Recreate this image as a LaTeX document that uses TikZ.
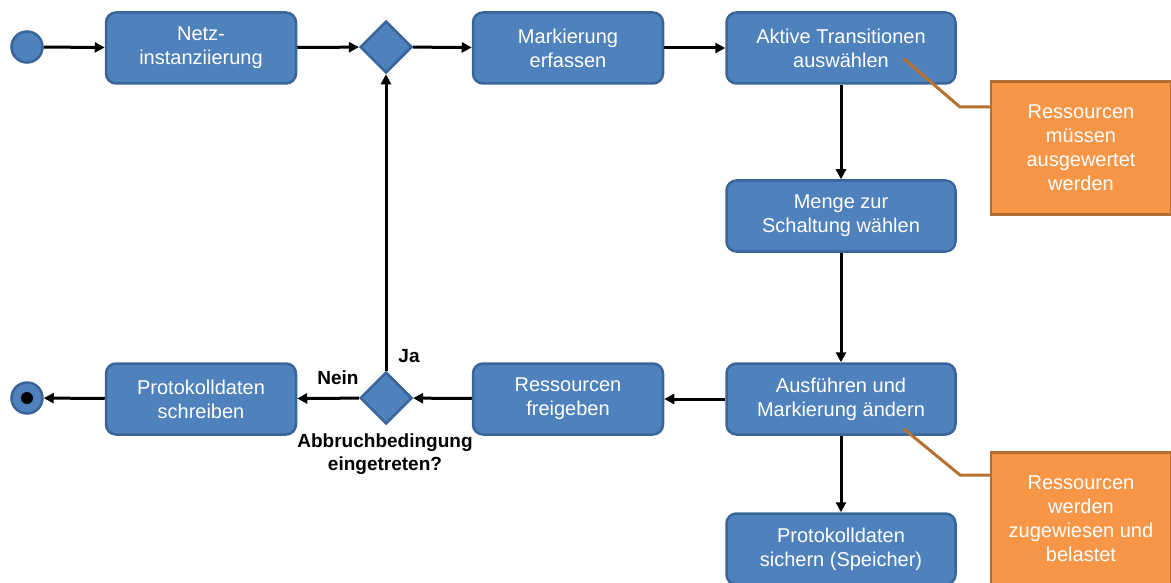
\documentclass[tikz,border=0pt]{standalone}
\usepackage{fontspec}
\setmainfont{Liberation Sans}
\usetikzlibrary{shapes.geometric,arrows.meta}
\definecolor{actfill}{HTML}{4F81BD}
\definecolor{actline}{HTML}{3A659A}
\definecolor{notefill}{HTML}{F79646}
\definecolor{noteline}{HTML}{B66D31}
\definecolor{calloutline}{HTML}{B5712F}
\begin{document}
\begin{tikzpicture}[x=1pt,y=-1pt,
  every node/.style={font=\fontsize{20}{24}\selectfont},
  action/.style={draw=actline, line width=2.5pt, fill=actfill, rounded corners=10pt,
    text=white, align=center, minimum width=#1, minimum height=71pt, inner sep=0pt},
  action/.default=190pt,
  decision/.style={diamond, draw=actline, line width=2.5pt, fill=actfill,
    minimum width=52pt, minimum height=52pt, inner sep=0pt},
  note/.style={draw=noteline, line width=2.5pt, fill=notefill, text=white,
    align=center, minimum width=180pt, minimum height=133pt, inner sep=0pt},
  flow/.style={draw=black, line width=3pt, -{Triangle[length=10pt,width=10pt]}},
  callout/.style={draw=calloutline, line width=3pt},
  lbl/.style={font=\bfseries\fontsize{19}{23}\selectfont, text=black, align=center}]
\useasboundingbox (0,0) rectangle (1171,583);

% start and end
\node[circle, draw=actline, line width=2.5pt, fill=actfill, minimum size=31pt, inner sep=0pt] (start) at (27,47) {};
\node[circle, draw=actline, line width=2.5pt, fill=actfill, minimum size=31pt, inner sep=0pt] (stop) at (27,398) {};
\fill[black] (stop.center) circle (6pt);

% upper row
\node[action] (netz) at (201,48) {Netz-\\instanziierung};
\node[decision] (merge) at (386,47) {};
\node[action] (mark) at (568,48) {Markierung\\erfassen};
\node[action=229pt] (aktiv) at (841,48) {Aktive Transitionen\\auswählen};

% right column
\node[action=229pt] (menge) at (841,216) {Menge zur\\Schaltung wählen};
\node[action=229pt] (ausf) at (841,399) {Ausführen und\\Markierung ändern};
\node[action=229pt] (sich) at (841,549) {Protokolldaten\\sichern (Speicher)};

% lower row
\node[action] (frei) at (568,399) {Ressourcen\\freigeben};
\node[decision] (abbr) at (386,398) {};
\node[action] (schr) at (201,399) {Protokolldaten\\schreiben};

% notes
\node[note] (n1) at (1081,148) {Ressourcen\\müssen\\ausgewertet\\werden};
\node[note] (n2) at (1081,519) {Ressourcen\\werden\\zugewiesen und\\belastet};

% decision labels
\node[lbl] (ja) at (409,356) {Ja};
\node[lbl] (nein) at (338,378) {Nein};
\node[lbl, anchor=north] (cond) at (385,430) {Abbruchbedingung\\eingetreten?};

% control flow
\draw[flow] (start) -- (netz);
\draw[flow] (netz) -- (merge);
\draw[flow] (merge) -- (mark);
\draw[flow] (mark) -- (aktiv);
\draw[flow] (aktiv) -- (menge);
\draw[flow] (menge) -- (ausf);
\draw[flow] (ausf) -- (sich);
\draw[flow] (ausf) -- (frei);
\draw[flow] (frei) -- (abbr);
\draw[flow] (abbr) -- (schr);
\draw[flow] (abbr) -- (merge);
\draw[flow] (schr) -- (stop);

% callouts
\coordinate (c1) at (904,59);
\coordinate (c2) at (904,429);
\draw[callout] (c1) -- (960,107) -- (n1.west |- 0,107);
\draw[callout] (c2) -- (960,475) -- (n2.west |- 0,475);
\end{tikzpicture}
\end{document}
